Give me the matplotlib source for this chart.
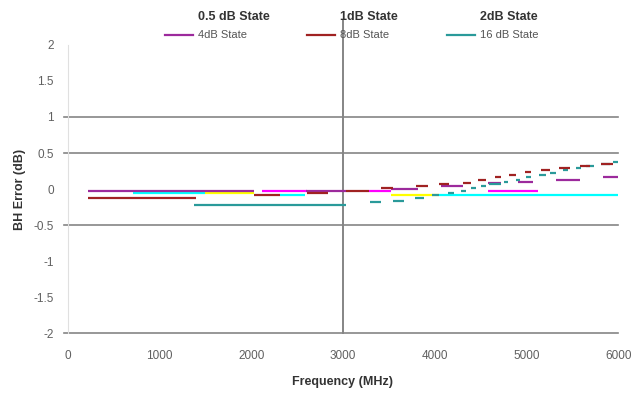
import matplotlib
matplotlib.use('Agg')
import matplotlib.pyplot as plt
from matplotlib.lines import Line2D

plt.rcParams['font.family'] = ['Liberation Sans', 'DejaVu Sans']

# error segments per attenuation state: start freq, end freq, error (dB)
s05_start = [2113, 3286, 4580]
s05_end = [2612, 3522, 5125]
s05_val = [-0.03, -0.03, -0.03]

s1_start = [1500, 3522]
s1_end = [2030, 4050]
s1_val = [-0.06, -0.09]

s2_start = [718, 2310, 4050]
s2_end = [1500, 2587, 6000]
s2_val = [-0.06, -0.09, -0.09]

s4_start = [219, 2600, 3522, 4066, 4580, 4907, 5320, 5836]
s4_end = [2030, 3030, 3814, 4306, 4720, 5070, 5580, 6000]
s4_val = [-0.03, -0.03, 0.0, 0.04, 0.08, 0.10, 0.13, 0.16]

s8_start = [219, 2030, 2612, 3030, 3410, 3792, 4050, 4306, 4470, 4652,
            4809, 4980, 5160, 5355, 5580, 5815]
s8_end = [1400, 2310, 2841, 3286, 3540, 3923, 4160, 4393, 4554, 4725,
          4885, 5053, 5253, 5470, 5690, 5945]
s8_val = [-0.12, -0.09, -0.055, -0.03, 0.01, 0.04, 0.07, 0.09, 0.13, 0.16,
          0.20, 0.23, 0.26, 0.29, 0.32, 0.35]

s16_start = [1373, 3290, 3540, 3790, 3967, 4142, 4284, 4393, 4500, 4590,
             4750, 4885, 4995, 5136, 5257, 5400, 5540, 5650, 5815, 5945]
s16_end = [3030, 3410, 3670, 3887, 4044, 4215, 4340, 4448, 4554, 4720,
           4800, 4925, 5050, 5213, 5320, 5450, 5595, 5730, 5910, 6000]
s16_val = [-0.22, -0.18, -0.16, -0.12, -0.09, -0.06, -0.03, 0.01, 0.04, 0.07,
           0.10, 0.13, 0.16, 0.20, 0.22, 0.26, 0.29, 0.32, 0.35, 0.38]

yticks = [2, 1.5, 1, 0.5, 0, -0.5, -1, -1.5, -2]
ytick_labels = ['2', '1.5', '1', '0.5', '0', '-0.5', '-1', '-1.5', '-2']
xticks = [0, 1000, 2000, 3000, 4000, 5000, 6000]
grid_y = [1, 0.5, -0.5, -2]

fig = plt.figure(figsize=(6.36, 3.94), dpi=100)
ax = fig.add_axes([0.1062, 0.1548, 0.866, 0.731])

series = [
    (s2_start, s2_end, s2_val, '#00ffff'),
    (s1_start, s1_end, s1_val, '#ffff00'),
    (s05_start, s05_end, s05_val, '#ff00ff'),
    (s4_start, s4_end, s4_val, '#9c2a9c'),
    (s16_start, s16_end, s16_val, '#2a9a9a'),
    (s8_start, s8_end, s8_val, '#a02222'),
]
for st, en, v, c in series:
    ax.hlines(v, st, en, colors=c, linewidth=1.6, zorder=3)

for g in grid_y:
    ax.axhline(g, xmin=-0.006, xmax=1, color='#858585', linewidth=1.2,
               clip_on=False, zorder=2)
ax.axvline(3000, ymin=0, ymax=1.087, color='#858585', linewidth=1.4,
           clip_on=False, zorder=2)

ax.set_xlim(0, 6000)
ax.set_ylim(-2, 2)
ax.set_xticks(xticks)
ax.set_xticklabels([str(t) for t in xticks])
ax.set_yticks(yticks)
ax.set_yticklabels(ytick_labels)
ax.tick_params(axis='both', length=0, labelsize=8.5, colors='#606060')
ax.tick_params(axis='x', pad=12)
ax.tick_params(axis='y', pad=10)
for side in ['top', 'right', 'bottom']:
    ax.spines[side].set_visible(False)
ax.spines['left'].set_color('#e0e0e0')

ax.set_xlabel('Frequency (MHz)', fontsize=9, fontweight='bold', color='#333333', labelpad=10)
ax.set_ylabel('BH Error (dB)', fontsize=9, fontweight='bold', color='#333333', labelpad=5)

# legend: header row without line, state row with line
header = ['0.5 dB State', '1dB State', '2dB State']
names = ['4dB State', '8dB State', '16 dB State']
colors = ['#9c2a9c', '#a02222', '#2a9a9a']
col_x = [165 / 636, 307 / 636, 447 / 636]
for x0, h, n, c in zip(col_x, header, names, colors):
    fig.text(x0 + 33 / 636, 1 - 17 / 394, h, fontsize=9, fontweight='bold',
             color='#333333', va='center', ha='left')
    fig.add_artist(Line2D([x0, x0 + 28 / 636], [1 - 35 / 394] * 2,
                          color=c, linewidth=1.6))
    fig.text(x0 + 33 / 636, 1 - 35 / 394, n, fontsize=8, color='#555555',
             va='center', ha='left')

fig.savefig('out.png', dpi=100)
